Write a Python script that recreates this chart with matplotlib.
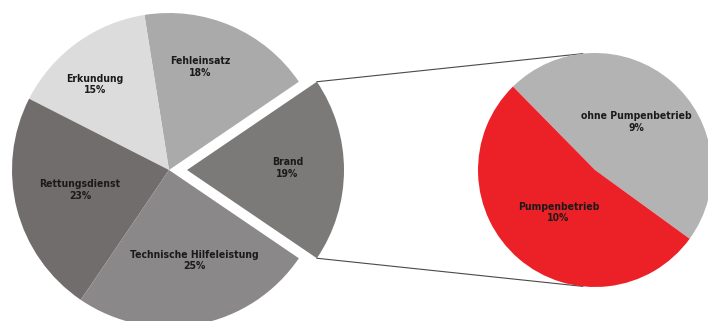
import matplotlib.pyplot as plt
import numpy as np

# Einsatzarten (Anteile in %)
kategorien = ["Brand", "Fehleinsatz", "Erkundung", "Rettungsdienst", "Technische Hilfeleistung"]
anteile = [19, 18, 15, 23, 25]
farben = ["#7b7a79", "#a9aaa9", "#dcdcdc", "#716d6c", "#8a8889"]

# Aufteilung Brand
brand_kategorien = ["ohne Pumpenbetrieb", "Pumpenbetrieb"]
brand_anteile = [9, 10]
brand_farben = ["#b3b3b3", "#ec2027"]

W, H = 708, 321
fig = plt.figure(figsize=(W / 100, H / 100), dpi=100)
ax = fig.add_axes([0, 0, 1, 1])
ax.set_xlim(0, W)
ax.set_ylim(0, H)
ax.set_aspect("equal")
ax.axis("off")

font = dict(family=["DejaVu Sans"], fontstretch="condensed", fontsize=7.5,
            fontweight="bold", color="#1a1a1a", ha="center", va="center")

# linker Kreis, Brand herausgezogen
c1 = (169, 151)
r1 = 157
expl = [18, 0, 0, 0, 0]
start1 = -anteile[0] / 100 * 360 / 2
wedges1, _ = ax.pie(anteile, colors=farben, startangle=start1, counterclock=True,
                    center=c1, radius=r1, explode=expl, frame=True,
                    wedgeprops=dict(linewidth=0))

label_r = [0.64, 0.685, 0.72, 0.58, 0.60]
label_dw = [1, 6.6, 5, -1.7, 5]
for w, name, val, lr, dw in zip(wedges1, kategorien, anteile, label_r, label_dw):
    th = np.deg2rad((w.theta1 + w.theta2) / 2 + dw)
    cx, cy = w.center
    ax.text(cx + lr * r1 * np.cos(th), cy + lr * r1 * np.sin(th),
            f"{name}\n{val}%", **font)

# rechter Kreis
c2 = (595, 151)
r2 = 117
start2 = -36
wedges2, _ = ax.pie(brand_anteile, colors=brand_farben, startangle=start2,
                    counterclock=True, center=c2, radius=r2, frame=True,
                    wedgeprops=dict(linewidth=0))
for w, name, val, lr in zip(wedges2, brand_kategorien, brand_anteile, [0.54, 0.48]):
    th = np.deg2rad((w.theta1 + w.theta2) / 2)
    ax.text(c2[0] + lr * r2 * np.cos(th), c2[1] + lr * r2 * np.sin(th),
            f"{name}\n{val}%", **font)

# Verbindungslinien (Tangenten an den rechten Kreis)
bw = wedges1[0]
bc = np.array(bw.center)
for ang, sign in [(bw.theta2, 1), (bw.theta1, -1)]:
    p = bc + r1 * np.array([np.cos(np.deg2rad(ang)), np.sin(np.deg2rad(ang))])
    d = p - np.array(c2)
    dist = np.hypot(*d)
    phi = np.arctan2(d[1], d[0]) - sign * np.arccos(r2 / dist)
    t = np.array(c2) + r2 * np.array([np.cos(phi), np.sin(phi)])
    ax.plot([p[0], t[0]], [p[1], t[1]], color="#4a4a4a", linewidth=0.8, zorder=0)

ax.set_xlim(0, W)
ax.set_ylim(0, H)
fig.savefig("out.png", dpi=100)
